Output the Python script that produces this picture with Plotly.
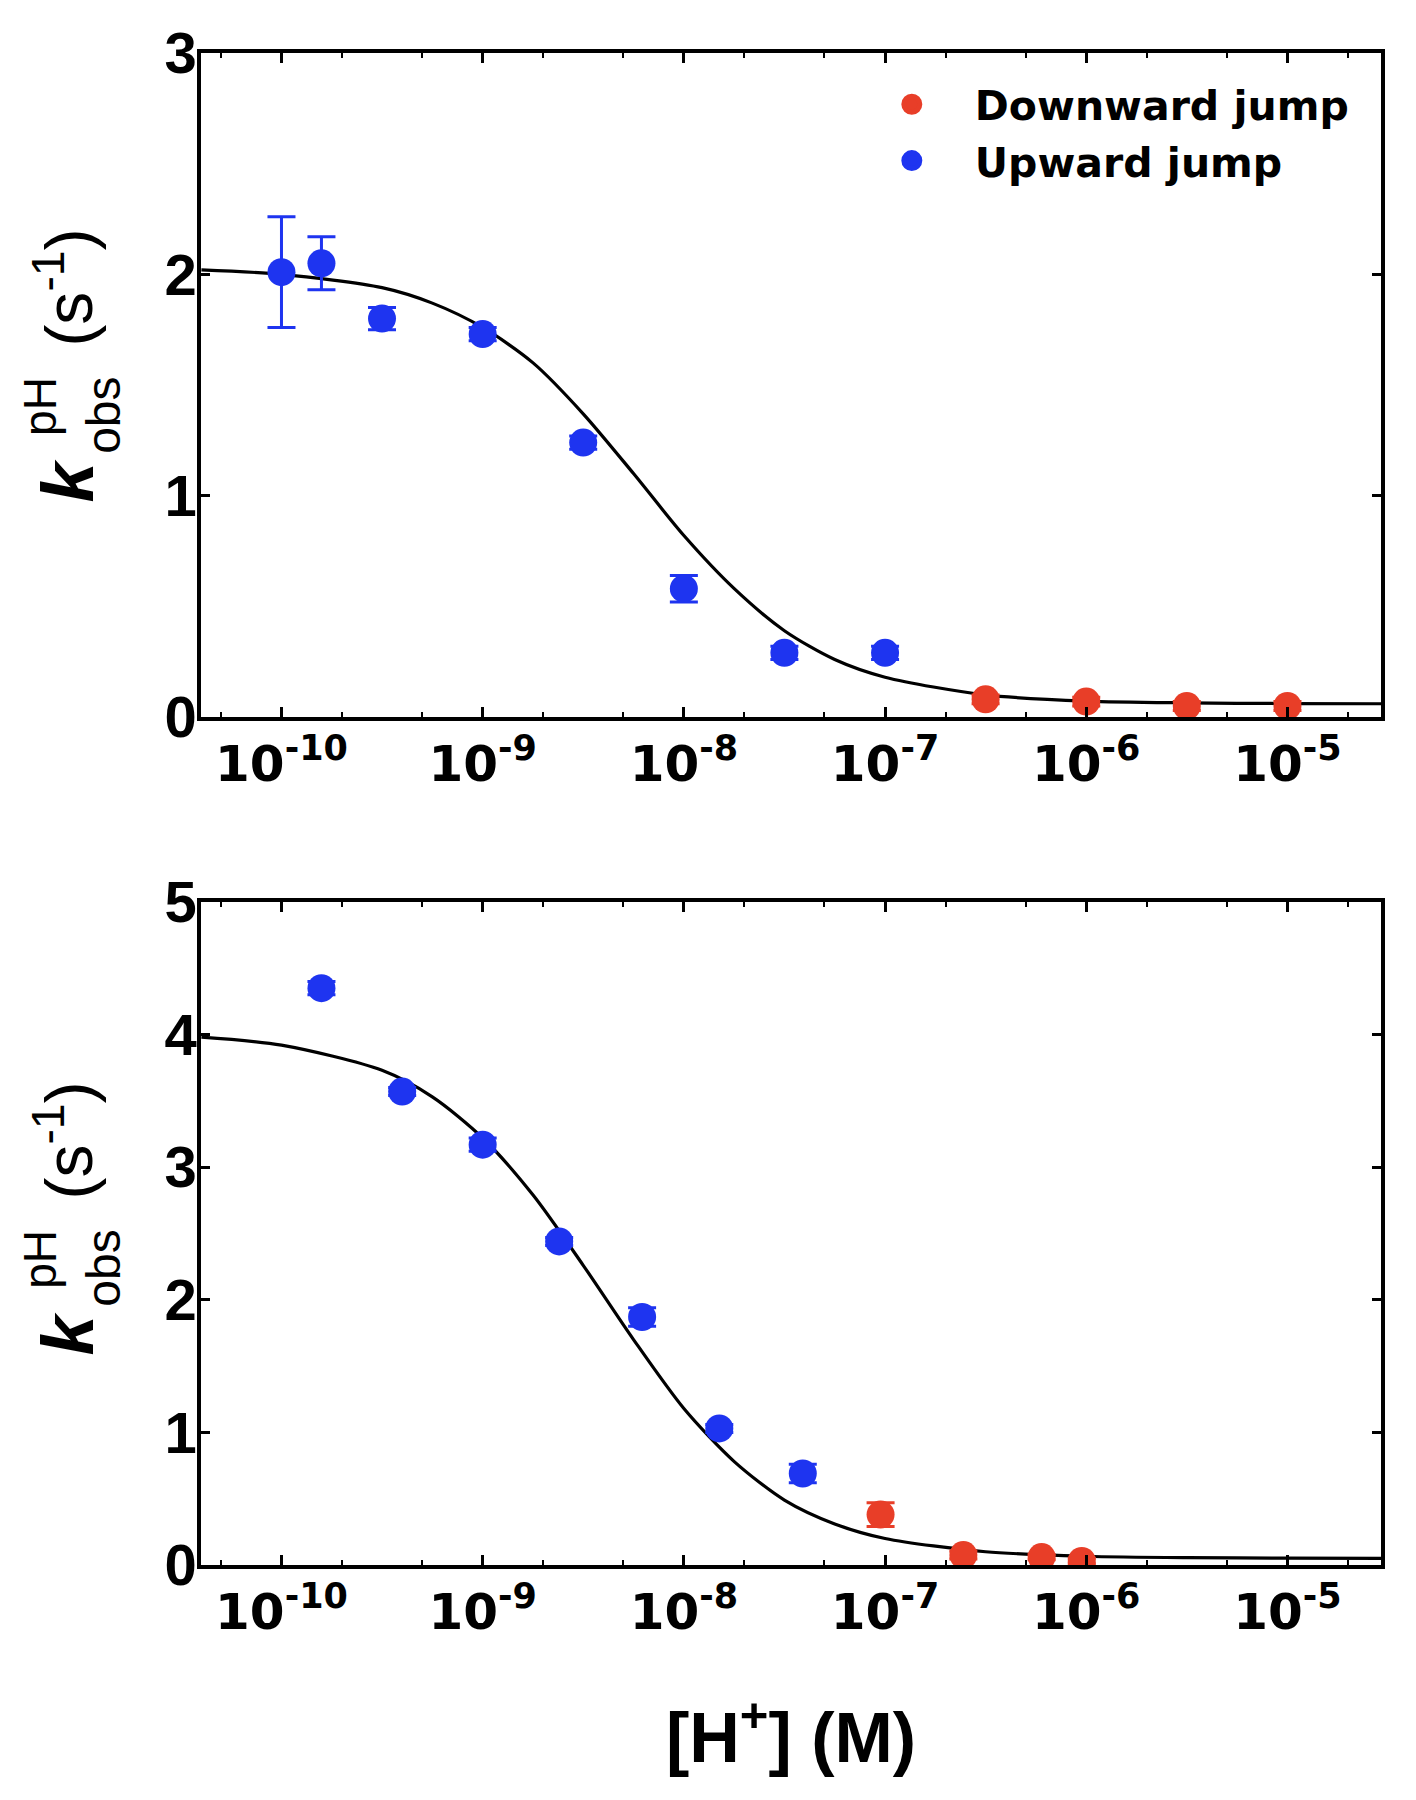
import plotly.graph_objects as go

# ---------------- data ----------------
# Top panel
top_up_H = [1.0e-10, 1.58e-10, 3.16e-10, 1.0e-9, 3.16e-9, 1.0e-8, 3.16e-8, 1.0e-7]
top_up_k = [2.01, 2.05, 1.80, 1.73, 1.24, 0.58, 0.29, 0.29]
top_up_err = [0.25, 0.12, 0.05, 0.03, 0.03, 0.06, 0.03, 0.03]
top_down_H = [3.16e-7, 1.0e-6, 3.16e-6, 1.0e-5]
top_down_k = [0.08, 0.07, 0.05, 0.05]
top_down_err = [0.02, 0.02, 0.02, 0.02]
top_fit_H = [4.0e-11, 1.0e-10, 3.16e-10, 5.62e-10, 1.0e-9, 1.78e-9, 3.16e-9, 5.62e-9,
             1.0e-8, 1.78e-8, 3.16e-8, 5.62e-8, 1.0e-7, 3.16e-7, 1.0e-6, 3.16e-6, 1.0e-5, 3.0e-5]
top_fit_k = [2.02, 2.00, 1.94, 1.87, 1.76, 1.60, 1.37, 1.10,
             0.82, 0.58, 0.39, 0.26, 0.18, 0.10, 0.072, 0.064, 0.061, 0.06]

# Bottom panel
bot_up_H = [1.58e-10, 3.98e-10, 1.0e-9, 2.4e-9, 6.2e-9, 1.5e-8, 3.9e-8]
bot_up_k = [4.35, 3.57, 3.17, 2.44, 1.87, 1.03, 0.69]
bot_up_err = [0.05, 0.03, 0.05, 0.03, 0.07, 0.03, 0.07]
bot_down_H = [9.5e-8, 2.45e-7, 6.0e-7, 9.5e-7]
bot_down_k = [0.38, 0.075, 0.06, 0.03]
bot_down_err = [0.09, 0.03, 0.02, 0.02]
bot_fit_H = [4.0e-11, 1.0e-10, 3.16e-10, 5.62e-10, 1.0e-9, 1.78e-9, 3.16e-9, 5.62e-9,
             1.0e-8, 1.78e-8, 3.16e-8, 5.62e-8, 1.0e-7, 3.16e-7, 1.0e-6, 3.16e-6, 1.0e-5, 3.0e-5]
bot_fit_k = [3.98, 3.92, 3.73, 3.53, 3.22, 2.79, 2.26, 1.70,
             1.18, 0.78, 0.49, 0.31, 0.20, 0.10, 0.066, 0.055, 0.052, 0.05]

x_tickvals = [1e-10, 1e-9, 1e-8, 1e-7, 1e-6, 1e-5]
x_ticktext = ["10<sup>-10</sup>", "10<sup>-9</sup>", "10<sup>-8</sup>",
              "10<sup>-7</sup>", "10<sup>-6</sup>", "10<sup>-5</sup>"]
series_names = ["Downward jump", "Upward jump"]

# ---------------- style ----------------
RED = "rgb(232,62,40)"
BLUE = "rgb(30,52,240)"
FONT = "Liberation Sans, Arial, sans-serif"
WIDE = "DejaVu Sans, Liberation Sans, sans-serif"
MS = 28

fig = go.Figure()


def add_points(xs, ys, errs, color, xa, ya):
    fig.add_trace(go.Scatter(
        x=xs, y=ys, mode="markers", xaxis=xa, yaxis=ya, showlegend=False,
        marker=dict(color=color, size=MS, line=dict(width=0)),
        error_y=dict(type="data", array=errs, color=color, thickness=3, width=14),
    ))


def add_fit(xs, ys, xa, ya):
    fig.add_trace(go.Scatter(
        x=xs, y=ys, mode="lines", xaxis=xa, yaxis=ya, showlegend=False,
        line=dict(color="black", width=3.2, shape="spline", smoothing=0.8),
    ))


# top panel
add_fit(top_fit_H, top_fit_k, "x", "y")
add_points(top_up_H, top_up_k, top_up_err, BLUE, "x", "y")
add_points(top_down_H, top_down_k, top_down_err, RED, "x", "y")
# bottom panel
add_fit(bot_fit_H, bot_fit_k, "x2", "y2")
add_points(bot_up_H, bot_up_k, bot_up_err, BLUE, "x2", "y2")
add_points(bot_down_H, bot_down_k, bot_down_err, RED, "x2", "y2")

# legend entries
for name, color in zip(series_names, [RED, BLUE]):
    fig.add_trace(go.Scatter(
        x=[None], y=[None], mode="markers", name=name, xaxis="x", yaxis="y",
        marker=dict(color=color, size=16, line=dict(color=color, width=5)),
    ))

xrange = [-10.4, -4.535]
common_x = dict(
    type="log", range=xrange, showline=True, linecolor="black", linewidth=3.5,
    mirror="ticks", ticks="inside", ticklen=10, tickwidth=2.5, tickcolor="black",
    tickvals=x_tickvals, ticktext=x_ticktext, showgrid=False, zeroline=False,
    tickfont=dict(family=WIDE, size=50, color="black", weight="bold"),
    minor=dict(ticks="inside", ticklen=5, tickwidth=2, tickcolor="black", showgrid=False),
)
common_y = dict(
    showline=True, linecolor="black", linewidth=3.5, mirror="ticks",
    ticks="inside", ticklen=9, tickwidth=2.5, tickcolor="black",
    showgrid=False, zeroline=False, dtick=1, ticklabelstandoff=-11,
    tickfont=dict(family=FONT, size=58, color="black", weight="bold"),
)

# page body has an 8px margin; compensate so the plot box lands where intended
BODY = 8
PL, PR, PT, PB = 201, 1381, 44, 1565       # target plot-area edges (page px)
L, T = PL - BODY, PT - BODY
R = 1416 - (PR - BODY)
B = 1800 - (PB - BODY)
H = PB - PT
top_bottom = (PB - 712) / H
bot_top = (PB - 898) / H

fig.update_layout(
    width=1416, height=1800,
    paper_bgcolor="white", plot_bgcolor="white",
    margin=dict(l=L, r=R, t=T, b=B),
    xaxis=dict(domain=[0, 1], anchor="y", **common_x),
    yaxis=dict(domain=[top_bottom, 1], anchor="x", range=[0, 3], **common_y),
    xaxis2=dict(domain=[0, 1], anchor="y2", **common_x,
                title=dict(text="<b>[H<sup>+</sup>] (M)</b>", standoff=74,
                           font=dict(family=FONT, size=70, color="black"))),
    yaxis2=dict(domain=[0, bot_top], anchor="x2", range=[0, 5], **common_y),
    legend=dict(x=0.549, y=0.988, xanchor="left", yanchor="top",
                bgcolor="rgba(0,0,0,0)", borderwidth=0,
                font=dict(family=WIDE, size=41, color="black", weight="bold"),
                itemwidth=116, tracegroupgap=0),
    showlegend=True,
)


def px_to_paper(px, py):
    return (px - PL) / (PR - PL), (PB - py) / H


def add_ylabel(offset):
    parts = [
        ("<b><i>k</i></b>", 68, 1332, 72),
        ("pH", 40, 1258, 46),
        ("obs", 104, 1267, 48),
        ("(s<sup>-1</sup>)", 64, 1138, 66),
    ]
    for text, px, py, size in parts:
        xp, yp = px_to_paper(px, py - offset)
        fig.add_annotation(text=text, x=xp, y=yp, xref="paper", yref="paper",
                           showarrow=False, textangle=-90, xanchor="center", yanchor="middle",
                           font=dict(family=FONT, size=size, color="black"))


add_ylabel(858)
add_ylabel(0)

fig.write_html("out.html")
